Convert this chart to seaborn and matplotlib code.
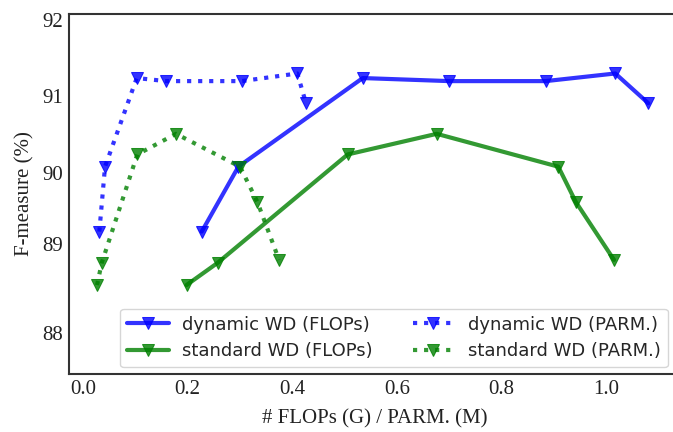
import matplotlib
matplotlib.use("Agg")
import matplotlib.pyplot as plt
import seaborn as sns
import numpy as np

# ---- data ----
f_dynamic = [89.23, 90.08, 91.24, 91.20, 91.20, 91.30, 90.91]
f_standard = [88.53, 88.82, 90.24, 90.51, 90.08, 89.62, 88.86]

flops_dynamic = [0.2270, 0.2971, 0.5348, 0.7004, 0.8847, 1.0178, 1.0809]
parm_dynamic = [0.0312, 0.0421, 0.1027, 0.1587, 0.3034, 0.4098, 0.4264]
flops_standard = [0.1979, 0.2572, 0.5061, 0.6763, 0.9088, 0.9421, 1.0153]
parm_standard = [0.0268, 0.0358, 0.1038, 0.1778, 0.3002, 0.3333, 0.3748]

labels = ["dynamic WD (FLOPs)", "standard WD (FLOPs)",
          "dynamic WD (PARM.)", "standard WD (PARM.)"]

ytick_pos = [87.90, 89.07, 90.0, 91.0, 92.0]
ytick_labels = ["88", "89", "90", "91", "92"]
xtick_pos = [0.0, 0.2, 0.4, 0.6, 0.8, 1.0]
xtick_labels = ["0.0", "0.2", "0.4", "0.6", "0.8", "1.0"]

# ---- style ----
sns.set_style("white")
plt.rcParams["font.family"] = ["Liberation Serif", "DejaVu Serif"]

fig = plt.figure(figsize=(6.73, 4.32), dpi=100)
ax = fig.add_axes([69 / 673, 1 - 374 / 432, (680 - 69) / 673, 360 / 432])

series = [
    (flops_dynamic, f_dynamic, "blue", "-", labels[0]),
    (flops_standard, f_standard, "green", "-", labels[1]),
    (parm_dynamic, f_dynamic, "blue", ":", labels[2]),
    (parm_standard, f_standard, "green", ":", labels[3]),
]
for xs, ys, col, ls, lab in series:
    sns.lineplot(x=xs, y=ys, ax=ax, color=col, linestyle=ls, marker="v",
                 markersize=9, markeredgecolor=col, linewidth=3, alpha=0.8,
                 label=lab, sort=False, estimator=None)

ax.set_xlim(-0.0268, 1.1415)
ax.set_ylim(87.366, 92.0785)
ax.set_xticks(xtick_pos)
ax.set_xticklabels(xtick_labels)
ax.set_yticks(ytick_pos)
ax.set_yticklabels(ytick_labels)
ax.tick_params(axis="both", labelsize=15, length=0, pad=4, colors="#222222")
ax.set_xlabel("# FLOPs (G) / PARM. (M)", fontsize=15, color="#222222", labelpad=8)
ax.set_ylabel("F-measure (%)", fontsize=15, color="#222222", labelpad=6)

for s in ax.spines.values():
    s.set_color("#333333")
    s.set_linewidth(1.5)

ax.legend(ncol=2, loc="lower right", bbox_to_anchor=(0.98, 0.019),
          borderaxespad=0, prop={"family": ["DejaVu Sans"], "size": 13},
          handlelength=2.3, columnspacing=2.2, handletextpad=0.75,
          labelspacing=0.45, frameon=True,
          edgecolor="#cccccc", fancybox=True)

fig.savefig("out.png", dpi=100)
